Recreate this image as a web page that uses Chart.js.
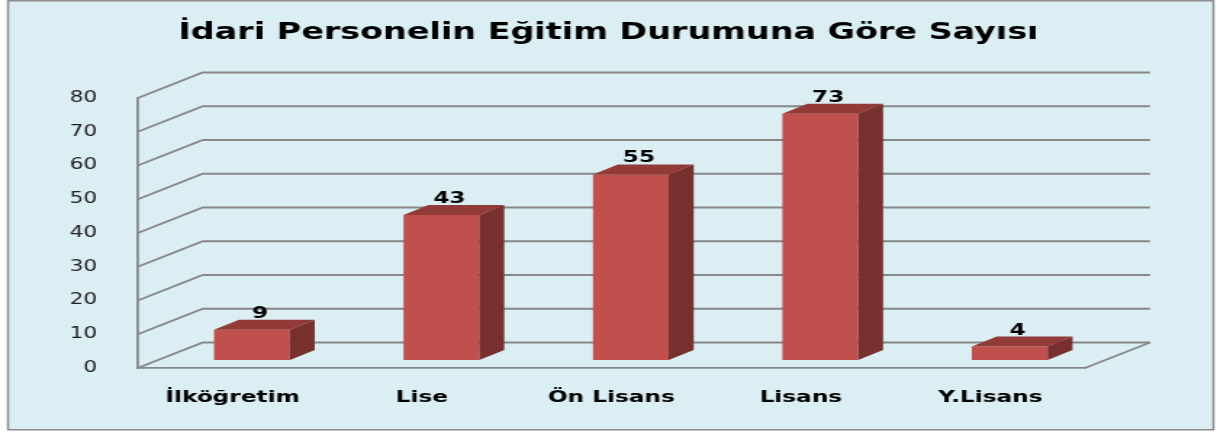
<!DOCTYPE html>
<html lang="tr">
<head>
<meta charset="utf-8">
<title>İdari Personelin Eğitim Durumuna Göre Sayısı</title>
<script src="https://cdn.jsdelivr.net/npm/chart.js@4.4.1/dist/chart.umd.min.js"></script>
<style>
  html, body { margin: 0; padding: 0; background: #fff; overflow: hidden; }
  /* the original picture is stretched sideways, so the canvas is too */
  #wrap { width: 839px; height: 432px; transform: scale(1.4505, 1); transform-origin: 0 0; }
</style>
</head>
<body>
<div id="wrap"><canvas id="egitimChart" width="839" height="432"></canvas></div>
<script>
const chartTitle = 'İdari Personelin Eğitim Durumuna Göre Sayısı';
const categories = ['İlköğretim', 'Lise', 'Ön Lisans', 'Lisans', 'Y.Lisans'];
const counts = [9, 43, 55, 73, 4];
const yMin = 0, yMax = 80, yStep = 10;

// 3d look
const DEPTH_X = 44.8, DEPTH_Y = -25.5;      // back wall offset
const BAR_SHIFT_X = 13.4, BAR_SHIFT_Y = -8;  // bars sit a bit into the floor
const BAR_DEPTH_X = 17.2, BAR_DEPTH_Y = -10;
const frontColor = 'rgb(192,80,77)', topColor = 'rgb(146,58,55)', sideColor = 'rgb(120,48,46)';
const gridColor = '#878787';

const plot3d = {
    id: 'plot3d',
    beforeDraw(chart) {
        const ctx = chart.ctx;
        ctx.save();
        ctx.fillStyle = '#fff';
        ctx.fillRect(0, 0, chart.width, chart.height);
        ctx.fillStyle = '#dbeef4';
        ctx.fillRect(5.5, 0.75, 831, 429);
        ctx.strokeStyle = '#8c8c8c';
        ctx.lineWidth = 1.5;
        ctx.strokeRect(5.5, 0.75, 831, 429);
        ctx.restore();
    },
    beforeDatasetsDraw(chart) {
        const {ctx, chartArea: a, scales: {y}} = chart;
        ctx.save();
        ctx.strokeStyle = gridColor;
        ctx.lineWidth = 1.8;
        y.ticks.forEach(t => {
            const py = y.getPixelForValue(t.value);
            ctx.beginPath();
            ctx.moveTo(a.left, py);
            ctx.lineTo(a.left + DEPTH_X, py + DEPTH_Y);
            ctx.lineTo(a.right + DEPTH_X, py + DEPTH_Y);
            ctx.stroke();
        });
        // right edge of the floor
        ctx.beginPath();
        ctx.moveTo(a.right, a.bottom);
        ctx.lineTo(a.right + DEPTH_X, a.bottom + DEPTH_Y);
        ctx.stroke();
        ctx.restore();

        ctx.save();
        ctx.translate(BAR_SHIFT_X, BAR_SHIFT_Y);
    },
    afterDatasetsDraw(chart) {
        const ctx = chart.ctx;
        const meta = chart.getDatasetMeta(0);
        meta.data.forEach((bar, i) => {
            const {x, y, base, width} = bar.getProps(['x', 'y', 'base', 'width'], true);
            const l = x - width / 2, r = x + width / 2;
            // top face
            ctx.fillStyle = topColor;
            ctx.beginPath();
            ctx.moveTo(l, y);
            ctx.lineTo(r, y);
            ctx.lineTo(r + BAR_DEPTH_X, y + BAR_DEPTH_Y);
            ctx.lineTo(l + BAR_DEPTH_X, y + BAR_DEPTH_Y);
            ctx.closePath();
            ctx.fill();
            // side face
            ctx.fillStyle = sideColor;
            ctx.beginPath();
            ctx.moveTo(r, y);
            ctx.lineTo(r + BAR_DEPTH_X, y + BAR_DEPTH_Y);
            ctx.lineTo(r + BAR_DEPTH_X, base + BAR_DEPTH_Y);
            ctx.lineTo(r, base);
            ctx.closePath();
            ctx.fill();
            // value label
            ctx.fillStyle = '#000';
            ctx.font = 'bold 16px "DejaVu Sans"';
            ctx.textAlign = 'center';
            ctx.textBaseline = 'alphabetic';
            ctx.fillText(String(counts[i]), x + 5.5, y - 12);
        });
        ctx.restore();
    }
};

new Chart(document.getElementById('egitimChart'), {
    type: 'bar',
    data: {
        labels: categories,
        datasets: [{
            label: 'Sayı',
            data: counts,
            backgroundColor: frontColor,
            borderWidth: 0,
            barPercentage: 0.4,
            categoryPercentage: 1.0,
            clip: false
        }]
    },
    options: {
        responsive: false,
        devicePixelRatio: 1,
        animation: false,
        layout: { padding: 0 },
        plugins: {
            legend: { display: false },
            tooltip: { enabled: false },
            title: {
                display: true,
                text: chartTitle,
                color: '#000',
                font: { family: 'DejaVu Sans', size: 23, weight: 'bold' },
                padding: { top: 19, bottom: 51.4 }
            }
        },
        scales: {
            x: {
                grid: { display: false, drawTicks: false },
                border: { display: true, color: gridColor, width: 1.8 },
                ticks: {
                    color: '#000',
                    font: { family: 'DejaVu Sans', size: 16, weight: 'bold' },
                    padding: 20, maxRotation: 0, autoSkip: false
                },
                afterFit: s => { s.height = 64; }
            },
            y: {
                min: yMin, max: yMax,
                ticks: {
                    stepSize: yStep, color: '#222',
                    font: { family: 'DejaVu Sans', size: 15 },
                    padding: 28
                },
                grid: { display: false, drawTicks: false },
                border: { display: true, color: gridColor, width: 1.8 },
                afterFit: s => { s.width = 95; }
            },
            yRight: {
                position: 'right',
                min: yMin, max: yMax,
                ticks: { display: false },
                grid: { display: false, drawTicks: false },
                border: { display: false },
                afterFit: s => { s.width = 91; }
            }
        }
    },
    plugins: [plot3d]
});
</script>
</body>
</html>
